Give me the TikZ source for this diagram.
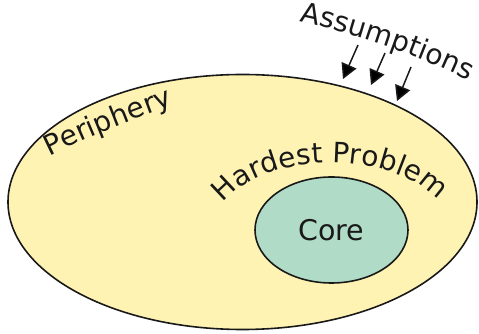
\documentclass[tikz,border=0pt]{standalone}
\usepackage{fontspec}
\setmainfont{DejaVu Sans}
\usetikzlibrary{shapes.geometric,arrows.meta,decorations.text}
\definecolor{peripheryfill}{RGB}{255,243,180}
\definecolor{corefill}{RGB}{176,220,199}
\definecolor{inkcol}{RGB}{25,25,25}
\tikzset{
  region/.style={ellipse, draw=inkcol, line width=1.6pt, inner sep=0pt},
  curvetext/.style={decorate, decoration={text along path, text align=center,
     text color=inkcol, text={|\fontsize{28}{31}\selectfont|#1}}},
  pusharrow/.style={draw=inkcol, line width=1.5pt, -{Triangle[width=16pt,length=15pt]}}
}
\begin{document}
\begin{tikzpicture}[x=1pt,y=1pt]
\useasboundingbox (0,0) rectangle (479,334);
\node[region, fill=peripheryfill, minimum width=469pt, minimum height=255pt] (outer) at (242.5,132) {};
\node[region, fill=corefill, minimum width=153pt, minimum height=106pt,
      font=\fontsize{28.5}{31}\selectfont, text=inkcol] (core) at (331.5,104) {Core};
% curved labels
\path[curvetext={Periphery}] (46,176) .. controls (90,198) and (135,215) .. (177,230);
\path[curvetext={Hardest Problem}] (331.5,104) ++(160:118pt and 67pt) arc[start angle=160, end angle=22, x radius=118, y radius=67];
\path[curvetext={Assumptions}] (296,313) .. controls (356,301) and (424,276) .. (472,252);
% arrows
\coordinate (a1s) at (358,289); \coordinate (a1e) at (343,255);
\coordinate (a2s) at (385,281); \coordinate (a2e) at (371,249);
\coordinate (a3s) at (411,267); \coordinate (a3e) at (397,233);
\draw[pusharrow] (a1s) -- (a1e);
\draw[pusharrow] (a2s) -- (a2e);
\draw[pusharrow] (a3s) -- (a3e);
\end{tikzpicture}
\end{document}
